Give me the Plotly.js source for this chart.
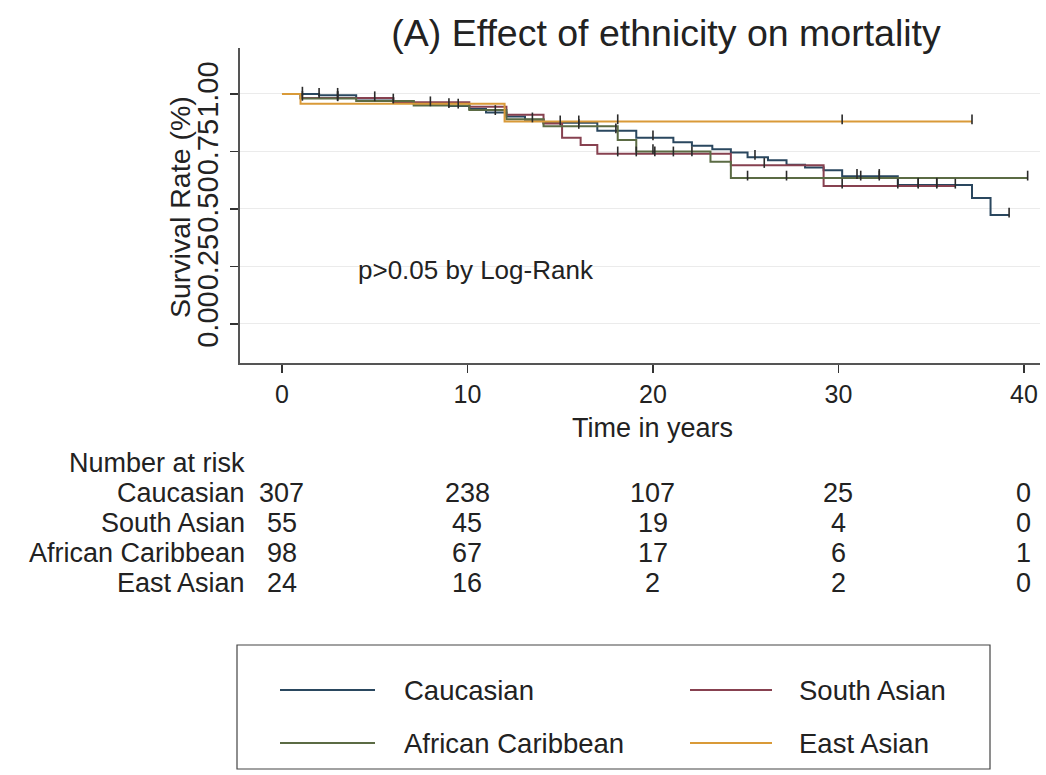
<!DOCTYPE html>
<html>
<head>
<meta charset="utf-8">
<script src="https://cdn.plot.ly/plotly-3.0.1.min.js"></script>
<style>html,body{margin:0;padding:0;background:#fff;}#chart{width:1046px;height:775px;}</style>
</head>
<body>
<div id="chart"></div>
<script>
// ---- data ----
const groups = ["Caucasian", "South Asian", "African Caribbean", "East Asian"];

const caucasianTimes = [0, 2.0, 4.0, 6.0, 7.1, 9.0, 10.1, 11.0, 12.1, 13.1, 14.1, 17.0, 19.1, 21.1, 22.1, 23.2, 24.2, 25.1, 26.2, 27.2, 28.2, 29.2, 30.2, 33.2, 37.2, 38.2];
const caucasianSurv  = [1.0, 0.995, 0.98, 0.968, 0.958, 0.948, 0.935, 0.92, 0.902, 0.888, 0.875, 0.84, 0.81, 0.79, 0.775, 0.76, 0.745, 0.725, 0.712, 0.692, 0.68, 0.668, 0.642, 0.604, 0.548, 0.474];
const caucasianEnd = 39.2;
const caucasianCens = [1.1, 2.0, 3.0, 5.0, 8.0, 9.5, 11.5, 13.5, 15.0, 16.0, 18.0, 20.0, 25.5, 31.0, 32.2, 34.3, 35.3, 39.2];

const southAsianTimes = [0, 1.0, 6.0, 10.1, 12.1, 14.1, 15.1, 16.1, 17.0, 24.2, 29.2];
const southAsianSurv  = [1.0, 0.982, 0.964, 0.945, 0.91, 0.872, 0.81, 0.778, 0.74, 0.69, 0.60];
const southAsianEnd = 36.3;
const southAsianCens = [1.1, 3.0, 18.1, 19.1, 20.1, 21.1, 22.1, 26.0, 30.2, 33.2, 34.3, 35.3, 36.3];

const africanCaribbeanTimes = [0, 1.0, 4.0, 7.1, 10.1, 12.1, 14.1, 18.1, 19.1, 23.1, 24.2];
const africanCaribbeanSurv  = [1.0, 0.98, 0.97, 0.95, 0.93, 0.89, 0.86, 0.80, 0.75, 0.705, 0.635];
const africanCaribbeanEnd = 40.2;
const africanCaribbeanCens = [3.0, 6.0, 9.0, 16.0, 20.0, 25.1, 27.2, 31.2, 32.2, 40.2];

const eastAsianTimes = [0, 1.0, 12.0];
const eastAsianSurv  = [1.0, 0.958, 0.88];
const eastAsianEnd = 37.2;
const eastAsianCens = [18.1, 30.2, 37.2];

const riskTimes = [0, 10, 20, 30, 40];
const riskCaucasian = [307, 238, 107, 25, 0];
const riskSouthAsian = [55, 45, 19, 4, 0];
const riskAfricanCaribbean = [98, 67, 17, 6, 1];
const riskEastAsian = [24, 16, 2, 2, 0];

const xTicks = [0, 10, 20, 30, 40];
const yTicks = [0, 0.25, 0.5, 0.75, 1.0];
const yTickText = ["0.00", "0.25", "0.50", "0.75", "1.00"];

// ---- styling ----
const colors = ["#2a475f", "#874150", "#5b6b44", "#d99a38"];
const FONT = "Liberation Sans, Arial, sans-serif";
const TXT = "#222";

const series = [
  {t: caucasianTimes, s: caucasianSurv, end: caucasianEnd, c: caucasianCens},
  {t: southAsianTimes, s: southAsianSurv, end: southAsianEnd, c: southAsianCens},
  {t: africanCaribbeanTimes, s: africanCaribbeanSurv, end: africanCaribbeanEnd, c: africanCaribbeanCens},
  {t: eastAsianTimes, s: eastAsianSurv, end: eastAsianEnd, c: eastAsianCens}
];
const risks = [riskCaucasian, riskSouthAsian, riskAfricanCaribbean, riskEastAsian];

function stepAt(t, times, surv) {
  let v = surv[0];
  for (let i = 0; i < times.length; i++) { if (times[i] <= t) v = surv[i]; }
  return v;
}

const traces = [];
series.forEach((d, i) => {
  traces.push({
    x: d.t.concat([d.end]), y: d.s.concat([d.s[d.s.length - 1]]),
    type: "scatter", mode: "lines", line: {shape: "hv", color: colors[i], width: 2},
    name: groups[i], showlegend: false, hoverinfo: "skip"
  });
});
series.forEach((d, i) => {
  traces.push({
    x: d.c, y: d.c.map(t => stepAt(t, d.t, d.s) + 0.01),
    type: "scatter", mode: "markers",
    marker: {symbol: "line-ns-open", size: 7, color: "#2a2a2a", line: {color: "#2a2a2a", width: 1.6}},
    showlegend: false, hoverinfo: "skip"
  });
});

// ---- geometry (pixel helpers) ----
const W = 1046, H = 775, L = 240, R = 6, T = 48, B = 412;
const PW = W - L - R, PH = H - T - B;
const px2paperX = p => (p - L) / PW;
const px2paperY = p => (H - B - p) / PH;

const annotations = [];
annotations.push({text: "p>0.05 by Log-Rank", xref: "x", yref: "y", x: 4.0, y: 0.235, xanchor: "left", yanchor: "middle", showarrow: false, font: {family: FONT, size: 26, color: TXT}});
annotations.push({text: "Time in years", xref: "x", yref: "paper", x: 20, y: px2paperY(428), xanchor: "center", yanchor: "middle", showarrow: false, font: {family: FONT, size: 27, color: TXT}});
annotations.push({text: "Survival Rate (%)", xref: "paper", yref: "paper", x: px2paperX(180), y: px2paperY(207), textangle: -90, xanchor: "center", yanchor: "middle", showarrow: false, font: {family: FONT, size: 28.5, color: TXT}});
annotations.push({text: "Number at risk", xref: "paper", yref: "paper", x: px2paperX(247), y: px2paperY(463), xanchor: "right", yanchor: "middle", showarrow: false, font: {family: FONT, size: 27, color: TXT}});
const rowY = [493, 523, 553, 583];
groups.forEach((g, i) => {
  annotations.push({text: g, xref: "paper", yref: "paper", x: px2paperX(247), y: px2paperY(rowY[i]), xanchor: "right", yanchor: "middle", showarrow: false, font: {family: FONT, size: 27, color: TXT}});
  riskTimes.forEach((t, j) => {
    annotations.push({text: String(risks[i][j]), xref: "x", yref: "paper", x: t, y: px2paperY(rowY[i]), xanchor: "center", yanchor: "middle", showarrow: false, font: {family: FONT, size: 27, color: TXT}});
  });
});

// manual legend box
const shapes = [];
shapes.push({type: "rect", xref: "paper", yref: "paper", x0: px2paperX(237), x1: px2paperX(990), y0: px2paperY(645), y1: px2paperY(769), line: {color: "#444", width: 1.2}, fillcolor: "rgba(0,0,0,0)"});
const legPos = [
  {lx0: 280, lx1: 375, tx: 402, y: 690},
  {lx0: 690, lx1: 772, tx: 797, y: 690},
  {lx0: 280, lx1: 375, tx: 402, y: 743},
  {lx0: 690, lx1: 772, tx: 797, y: 743}
];
groups.forEach((g, i) => {
  const p = legPos[i];
  shapes.push({type: "line", xref: "paper", yref: "paper", x0: px2paperX(p.lx0), x1: px2paperX(p.lx1), y0: px2paperY(p.y), y1: px2paperY(p.y), line: {color: colors[i], width: 2}});
  annotations.push({text: g, xref: "paper", yref: "paper", x: px2paperX(p.tx), y: px2paperY(p.y), xanchor: "left", yanchor: "middle", showarrow: false, font: {family: FONT, size: 27.5, color: TXT}});
});

const layout = {
  width: W, height: H,
  margin: {l: L, r: R, t: T, b: B, pad: 0},
  paper_bgcolor: "#fff", plot_bgcolor: "#fff",
  showlegend: false,
  title: {text: "(A) Effect of ethnicity on mortality", font: {family: FONT, size: 37.5, color: TXT}, xref: "paper", x: px2paperX(666), xanchor: "center", yref: "container", y: 1 - 33 / H, yanchor: "middle"},
  xaxis: {range: [-2.264, 40.866], tickvals: xTicks, ticks: "outside", ticklen: 8, tickwidth: 1.5, tickcolor: "#333",
          showline: true, linecolor: "#555", linewidth: 2, showgrid: false, zeroline: false,
          tickfont: {family: FONT, size: 25, color: TXT}},
  yaxis: {range: [-0.17, 1.2], tickvals: yTicks, ticktext: yTickText, tickangle: -90, ticks: "outside", ticklen: 8, tickwidth: 1.5, tickcolor: "#333",
          showline: true, linecolor: "#555", linewidth: 2, showgrid: true, gridcolor: "#ebebeb", gridwidth: 1, zeroline: false,
          tickfont: {family: FONT, size: 29, color: TXT}},
  annotations: annotations,
  shapes: shapes
};

Plotly.newPlot("chart", traces, layout, {displayModeBar: false, staticPlot: true});
</script>
</body>
</html>
